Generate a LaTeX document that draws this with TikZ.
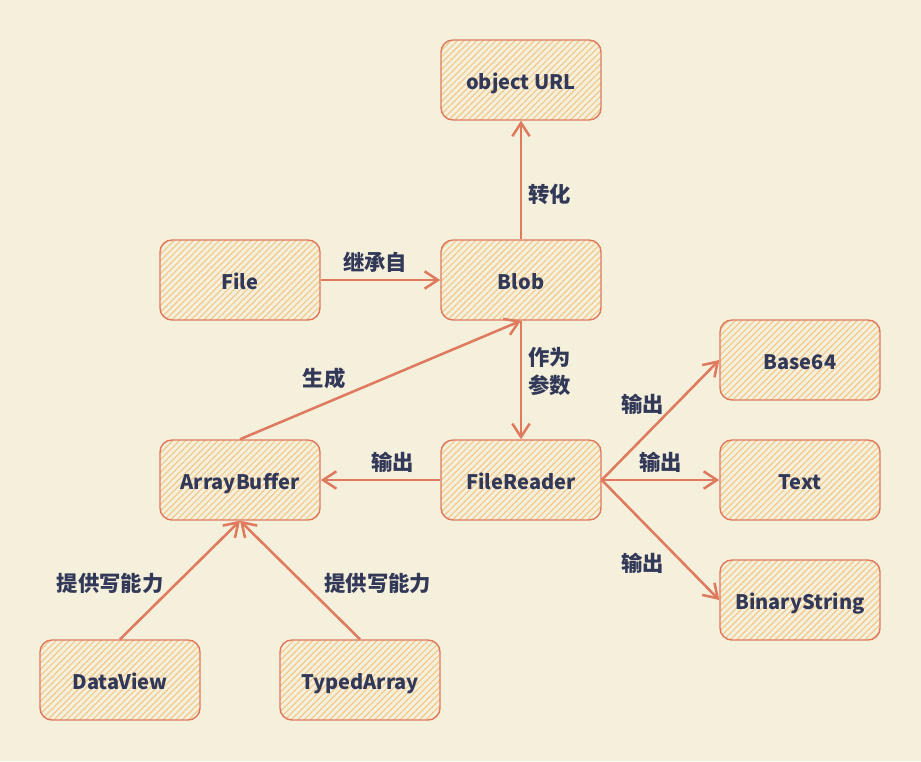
\documentclass[tikz,border=0pt]{standalone}
\usepackage{fontspec}
\setmainfont{Noto Sans CJK SC}
\usepackage{tikz}
\usetikzlibrary{arrows.meta,patterns.meta}

\definecolor{paper}{RGB}{245,240,220}
\definecolor{edgered}{RGB}{224,122,95}
\definecolor{hatch}{RGB}{243,201,142}
\definecolor{ink}{RGB}{50,56,88}

\begin{document}
\begin{tikzpicture}[x=0.75pt,y=-0.75pt,>={Straight Barb[length=10pt,width=13pt]},
		box node/.style={draw=edgered,line width=1.1pt,rounded corners=9pt,minimum width=120pt,minimum height=60pt,
			preaction={fill=paper},pattern={Lines[angle=45,distance=3.4pt,line width=0.9pt]},pattern color=hatch,
			text=ink,font=\fontsize{15}{18}\selectfont\bfseries,text height=14pt,text depth=0pt},
		link/.style={->,draw=edgered,line width=1.9pt},
		tag/.style={text=ink,font=\fontsize{16}{21}\selectfont\bfseries,align=left}]
		
		\fill[paper] (0,0) rectangle (921,761);
		\useasboundingbox (0,0) rectangle (921,761);
		
		\node[box node] (url) at (521,80) {object URL};
		\node[box node] (file) at (240,280) {File};
		\node[box node] (blob) at (521,280) {Blob};
		\node[box node] (b64) at (800,360) {Base64};
		\node[box node] (ab) at (240,480) {ArrayBuffer};
		\node[box node] (fr) at (521,480) {FileReader};
		\node[box node] (txt) at (800,480) {Text};
		\node[box node] (bs) at (800,600) {BinaryString};
		\node[box node] (dv) at (120,680) {DataView};
		\node[box node] (ta) at (360,680) {TypedArray};
		
		\path
		(blob.north) edge [link] node[tag,pos=0.375,right=1pt] {转化} (url.south)
		(file.east) edge [link] node[tag,pos=0.455,above=1pt] {继承自} (blob.west)
		(ab.north) edge [link] node[tag,pos=0.3,above=7pt] {生成} (blob.south)
		(blob.south) edge [link] node[tag,pos=0.43,right=1pt] {作为\\参数} (fr.north)
		(fr.west) edge [link] node[tag,pos=0.4,above=1pt] {输出} (ab.east)
		(fr.east) edge [link] node[tag,pos=0.633,left=5pt] {输出} (b64.west)
		(fr.east) edge [link] node[tag,pos=0.5,above=1pt] {输出} (txt.west)
		(fr.east) edge [link] node[tag,pos=0.69,left=10pt] {输出} (bs.west)
		(dv.north) edge [link] node[tag,pos=0.467,left=5pt] {提供写能力} (ab.south)
		(ta.north) edge [link] node[tag,pos=0.467,right=11pt] {提供写能力} (ab.south);
		
	\end{tikzpicture}
\end{document}
